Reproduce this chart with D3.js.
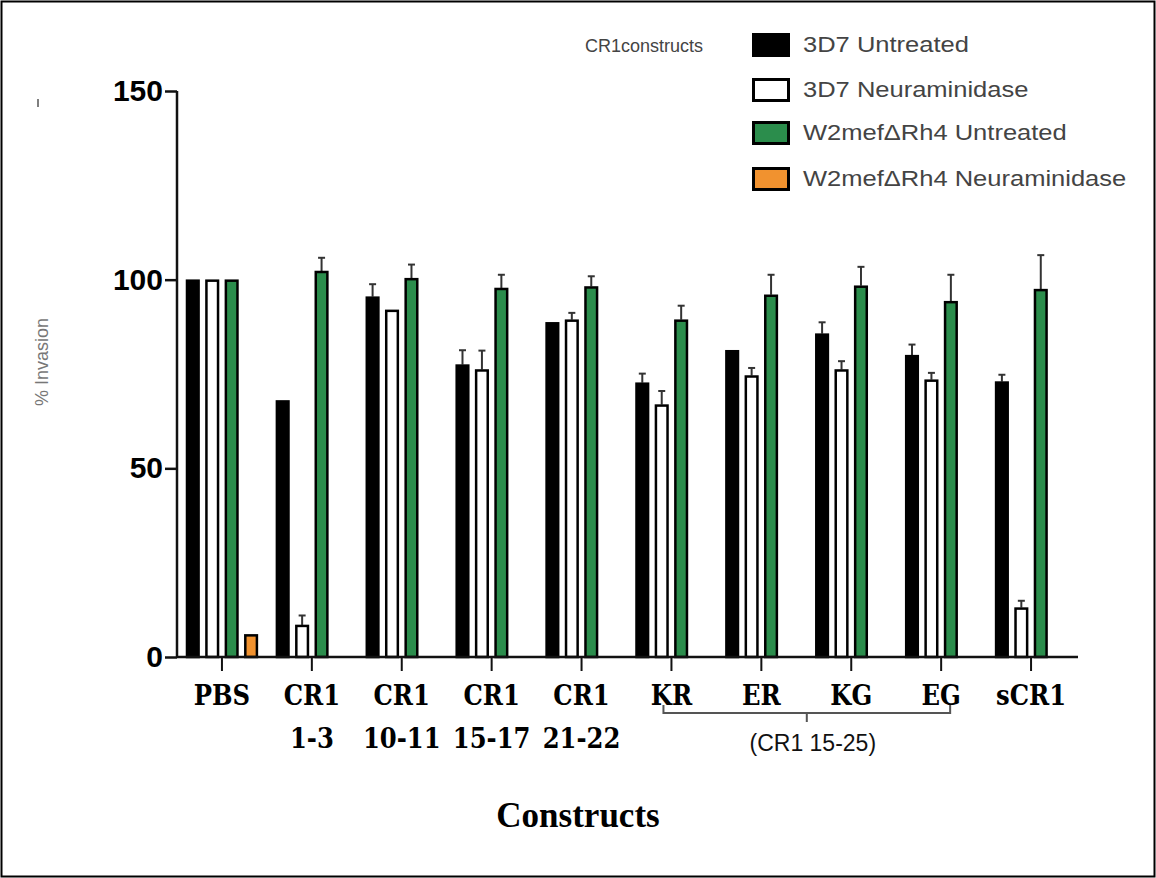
<!DOCTYPE html>
<html>
<head>
<meta charset="utf-8">
<script src="https://cdn.jsdelivr.net/npm/d3@7"></script>
<style>
  html, body { margin: 0; padding: 0; background: #fff; }
  svg { display: block; }
</style>
</head>
<body>
<svg id="chart" width="1156" height="878"></svg>
<script>
// Constructs along the x axis (two-line labels)
const categories = ["PBS", "CR1 1-3", "CR1 10-11", "CR1 15-17", "CR1 21-22", "KR", "ER", "KG", "EG", "sCR1"];
const labelLine1 = ["PBS", "CR1", "CR1", "CR1", "CR1", "KR", "ER", "KG", "EG", "sCR1"];
const labelLine2 = ["", "1-3", "10-11", "15-17", "21-22", "", "", "", "", ""];

// Series names
const seriesNames = ["3D7 Untreated", "3D7 Neuraminidase", "W2mefΔRh4 Untreated", "W2mefΔRh4 Neuraminidase"];

// % invasion means
const untreated3D7   = [100, 68, 95.5, 77.5, 88.7, 72.7, 81.3, 85.7, 80, 73];
const neuraminidase3D7 = [100, 8.5, 92, 76.2, 89.4, 66.9, 74.6, 76.2, 73.5, 13.1];
const untreatedW2    = [100, 102.3, 100.4, 97.8, 98.2, 89.4, 96, 98.4, 94.3, 97.5];
const neuraminidaseW2 = [6, null, null, null, null, null, null, null, null, null];

// Upper error (SEM) for each bar
const errUntreated3D7   = [0, 0, 3.3, 3.8, 0, 2.4, 0, 3, 2.8, 1.8];
const errNeuraminidase3D7 = [0, 2.5, 0, 5, 1.8, 3.6, 2, 2.2, 1.8, 1.8];
const errUntreatedW2    = [0, 3.5, 3.6, 3.5, 2.7, 3.7, 5.3, 5, 7, 9];
const errNeuraminidaseW2 = [0, 0, 0, 0, 0, 0, 0, 0, 0, 0];

const yTicks = [0, 50, 100, 150];

const seriesValues = [untreated3D7, neuraminidase3D7, untreatedW2, neuraminidaseW2];
const seriesErrors = [errUntreated3D7, errNeuraminidase3D7, errUntreatedW2, errNeuraminidaseW2];
const seriesFill = ["#000000", "#ffffff", "#2b8d4c", "#f1922f"];

const svg = d3.select("#chart");

// outer frame
svg.append("rect")
  .attr("x", 1.5).attr("y", 1.5).attr("width", 1153).attr("height", 875)
  .attr("fill", "none").attr("stroke", "#000").attr("stroke-width", 2);

const x0 = d3.scaleBand().domain(categories).range([177, 1076]).paddingInner(0.2).paddingOuter(0.1);
const x1 = d3.scaleBand().domain(d3.range(4)).range([0, x0.bandwidth()]).paddingInner(0.3).paddingOuter(0);
const y = d3.scaleLinear().domain([0, 150]).range([657, 91]);

// bars
const rows = [];
categories.forEach((c, i) => {
  seriesValues.forEach((vals, s) => {
    if (vals[i] != null) rows.push({ c, i, s, v: vals[i], e: seriesErrors[s][i] });
  });
});

const g = svg.append("g");

// error whiskers (upper only) drawn behind bars
const errRows = rows.filter(d => d.e > 0);
g.selectAll("line.err").data(errRows).join("line")
  .attr("x1", d => x0(d.c) + x1(d.s) + x1.bandwidth() / 2)
  .attr("x2", d => x0(d.c) + x1(d.s) + x1.bandwidth() / 2)
  .attr("y1", d => y(d.v))
  .attr("y2", d => y(d.v + d.e))
  .attr("stroke", "#333").attr("stroke-width", 2);
g.selectAll("line.cap").data(errRows).join("line")
  .attr("x1", d => x0(d.c) + x1(d.s) + x1.bandwidth() / 2 - 3.5)
  .attr("x2", d => x0(d.c) + x1(d.s) + x1.bandwidth() / 2 + 3.5)
  .attr("y1", d => y(d.v + d.e))
  .attr("y2", d => y(d.v + d.e))
  .attr("stroke", "#333").attr("stroke-width", 2);

g.selectAll("rect.bar").data(rows).join("rect")
  .attr("x", d => x0(d.c) + x1(d.s) + 1)
  .attr("width", x1.bandwidth() - 2)
  .attr("y", d => y(d.v) + 1)
  .attr("height", d => y(0) - y(d.v) - 1)
  .attr("fill", d => seriesFill[d.s])
  .attr("stroke", "#000").attr("stroke-width", 2.5);

// y axis
const yAxis = svg.append("g").attr("transform", "translate(177,0)")
  .call(d3.axisLeft(y).tickValues(yTicks).tickSize(12).tickPadding(2));
yAxis.select(".domain").attr("stroke", "#111").attr("stroke-width", 2.5).attr("d", `M0,${y(150)}V${y(0)}`);
yAxis.selectAll(".tick line").attr("stroke", "#111").attr("stroke-width", 2.5);
yAxis.selectAll(".tick text")
  .attr("font-family", "'Liberation Sans', Arial, sans-serif")
  .attr("font-weight", "bold").attr("font-size", 30).attr("fill", "#000");

// x axis
const xAxis = svg.append("g").attr("transform", `translate(0,${y(0)})`)
  .call(d3.axisBottom(x0).tickSize(14).tickFormat(""));
xAxis.select(".domain").attr("stroke", "#111").attr("stroke-width", 2.5).attr("d", "M177,0H1078");
xAxis.selectAll(".tick line").attr("stroke", "#111").attr("stroke-width", 2);

const labelFont = "'DejaVu Serif Condensed', 'DejaVu Serif', serif";
svg.append("g").selectAll("text").data(categories).join("text")
  .attr("x", d => x0(d) + x0.bandwidth() / 2)
  .attr("y", 705)
  .attr("text-anchor", "middle")
  .attr("font-family", labelFont).attr("font-stretch", "condensed")
  .attr("font-weight", "bold").attr("font-size", 27).attr("fill", "#000")
  .text((d, i) => labelLine1[i]);
svg.append("g").selectAll("text").data(categories).join("text")
  .attr("x", d => x0(d) + x0.bandwidth() / 2)
  .attr("y", 748)
  .attr("text-anchor", "middle")
  .attr("font-family", labelFont).attr("font-stretch", "condensed")
  .attr("font-weight", "bold").attr("font-size", 27).attr("fill", "#000")
  .text((d, i) => labelLine2[i]);

// bracket grouping the CR1 15-25 variants
const bx0 = x0("KR") + x0.bandwidth() / 2 - 8;
const bx1 = x0("EG") + x0.bandwidth() / 2 + 9;
const bMid = (bx0 + bx1) / 2;
svg.append("path")
  .attr("d", `M${bx0},705V713H${bx1}V705M${bMid},713V722`)
  .attr("fill", "none").attr("stroke", "#555").attr("stroke-width", 2);
svg.append("text")
  .attr("x", bMid + 6).attr("y", 751).attr("text-anchor", "middle")
  .attr("font-family", "'Liberation Sans', Arial, sans-serif")
  .attr("font-size", 23).attr("fill", "#111")
  .text("(CR1 15-25)");

// axis titles
svg.append("text")
  .attr("x", 578).attr("y", 827).attr("text-anchor", "middle")
  .attr("font-family", "'Liberation Serif', 'Times New Roman', serif")
  .attr("font-weight", "bold").attr("font-size", 35).attr("fill", "#000")
  .text("Constructs");

svg.append("text")
  .attr("transform", "translate(48,362) rotate(-90)")
  .attr("text-anchor", "middle")
  .attr("font-family", "'Liberation Sans', Arial, sans-serif")
  .attr("font-size", 18).attr("fill", "#777")
  .text("% Invasion");

// small stray mark near the top-left
svg.append("line").attr("x1", 38).attr("x2", 38).attr("y1", 99).attr("y2", 107)
  .attr("stroke", "#555").attr("stroke-width", 1.5);

// legend
const legendFont = "'Liberation Sans', Arial, sans-serif";
svg.append("text")
  .attr("x", 585).attr("y", 52)
  .attr("font-family", legendFont).attr("font-size", 18).attr("fill", "#444")
  .text("CR1constructs");

const legendRows = [45, 90, 133, 179];
const lg = svg.append("g").selectAll("g").data(seriesNames).join("g")
  .attr("transform", (d, i) => `translate(752,${legendRows[i]})`);
lg.append("rect")
  .attr("x", 1.5).attr("y", -10.5).attr("width", 35).attr("height", 21)
  .attr("fill", (d, i) => seriesFill[i]).attr("stroke", "#000").attr("stroke-width", 3);
lg.append("text")
  .attr("transform", "translate(51,7) scale(1.16,1)")
  .attr("font-family", legendFont).attr("font-size", 22).attr("fill", "#444")
  .text(d => d);
</script>
</body>
</html>
